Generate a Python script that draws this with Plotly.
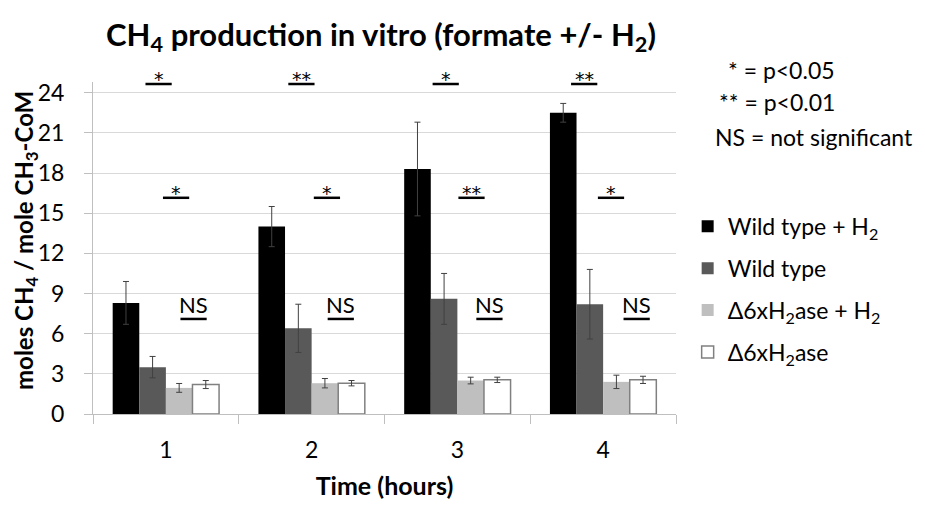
import plotly.graph_objects as go

# Time points (hours) and methane yield per series
hours = ["1", "2", "3", "4"]
series_names = [
    "Wild type + H<sub>2</sub>",
    "Wild type",
    "Δ6xH<sub>2</sub>ase + H<sub>2</sub>",
    "Δ6xH<sub>2</sub>ase",
]
wt_h2 = [8.3, 14.0, 18.3, 22.5]
wt_h2_err = [1.6, 1.5, 3.5, 0.7]
wt = [3.5, 6.4, 8.6, 8.2]
wt_err = [0.8, 1.8, 1.9, 2.6]
mut_h2 = [1.95, 2.3, 2.5, 2.4]
mut_h2_err = [0.33, 0.35, 0.25, 0.5]
mut = [2.2, 2.3, 2.55, 2.55]
mut_err = [0.3, 0.2, 0.2, 0.27]

# Significance marks: label, x position (category index), height of underline
sig_labels = ["*", "*", "NS", "**", "*", "NS", "*", "**", "NS", "**", "*", "NS"]
sig_x = [-0.05, 0.07, 0.19, 0.93, 1.105, 1.2, 1.92, 2.097, 2.22, 2.87, 3.054, 3.23]
sig_y = [24.65, 16.15, 7.1, 24.65, 16.15, 7.1, 24.65, 16.15, 7.1, 24.65, 16.15, 7.1]
sig_key = ["* = p<0.05", "** = p<0.01", "NS = not significant"]

y_ticks = [0, 3, 6, 9, 12, 15, 18, 21, 24]

FONT = "Lato"
STAR_FONT = "DejaVu Sans"
values = [wt_h2, wt, mut_h2, mut]
errors = [wt_h2_err, wt_err, mut_h2_err, mut_err]
fills = ["#000000", "#595959", "#bfbfbf", "#ffffff"]
edges = ["#000000", "#595959", "#bfbfbf", "#808080"]
edge_w = [0, 0, 0, 1.5]

# plot-area geometry in pixels, used to place paper-referenced text
W, H = 925, 506
L, R, T, B = 93, 249, 82, 92
PW, PH = W - L - R, H - T - B


def px_to_paper(px, py):
    return (px - L) / PW, (H - B - py) / PH


fig = go.Figure()
for i in range(4):
    fig.add_trace(go.Bar(
        x=hours, y=values[i], name=series_names[i], legendgroup=str(i),
        marker=dict(color=fills[i], line=dict(color=edges[i], width=edge_w[i])),
        error_y=dict(type="data", array=errors[i], color="#404040",
                     thickness=1, width=3),
    ))

shapes = []
annotations = []
half = 0.09
for lab, x, y in zip(sig_labels, sig_x, sig_y):
    shapes.append(dict(type="line", xref="x", yref="y", x0=x - half, x1=x + half,
                       y0=y, y1=y, line=dict(color="#000000", width=2.5)))
    is_star = lab.startswith("*")
    annotations.append(dict(
        x=x, y=y, xref="x", yref="y", text=lab, showarrow=False,
        xanchor="center", yanchor="bottom", yshift=-8 if is_star else -1,
        font=dict(family=STAR_FONT if is_star else FONT,
                  size=19 if is_star else 22, color="#000000"),
    ))

# key for significance symbols
key_pos = [(837, 70, "right"), (837, 102, "right"), (713, 137, "left")]
for txt, (px, py, anc) in zip(sig_key, key_pos):
    kx, ky = px_to_paper(px, py)
    annotations.append(dict(
        x=kx, y=ky, xref="paper", yref="paper", text=txt, showarrow=False,
        xanchor=anc, yanchor="middle",
        font=dict(family=FONT, size=23, color="#000000"),
    ))

tx, ty = px_to_paper(25, 241)
annotations.append(dict(
    x=tx, y=ty, xref="paper", yref="paper",
    text="<b>moles CH<sub>4</sub> / mole CH<sub>3</sub>-CoM</b>", textangle=-90,
    showarrow=False, xanchor="center", yanchor="middle",
    font=dict(family=FONT, size=24, color="#000000"),
))

fig.update_layout(
    width=W, height=H,
    margin=dict(l=L, r=R, t=T, b=B, autoexpand=False),
    paper_bgcolor="white", plot_bgcolor="white",
    font=dict(family=FONT, size=23, color="#000000"),
    barmode="group", bargap=0.27, bargroupgap=0,
    title=dict(text="<b>CH<sub>4</sub> production in vitro (formate +/- H<sub>2</sub>)</b>",
               x=381 / W, xanchor="center", y=1 - 35 / H, yanchor="middle",
               font=dict(family=FONT, size=31, color="#000000")),
    legend=dict(x=1.02, xanchor="left", y=0.63, yanchor="top",
                font=dict(family=FONT, size=23, color="#000000"),
                tracegroupgap=9, itemwidth=30, bgcolor="rgba(0,0,0,0)"),
    shapes=shapes, annotations=annotations,
)
fig.update_xaxes(
    type="category", tickson="boundaries", ticks="outside", ticklen=9,
    tickcolor="#bfbfbf", showline=True, linecolor="#bfbfbf", linewidth=1,
    showgrid=False, ticklabelstandoff=15,
    tickfont=dict(family=FONT, size=23),
    title=dict(text="<b>Time (hours)</b>", standoff=15,
               font=dict(family=FONT, size=25)),
)
fig.update_yaxes(
    range=[0, 24.8], tickvals=y_ticks, ticks="outside", ticklen=8,
    tickcolor="#bfbfbf", showline=True, linecolor="#bfbfbf", linewidth=1,
    showgrid=True, gridcolor="#d9d9d9", gridwidth=1, zeroline=False,
    ticklabelstandoff=15, tickfont=dict(family=FONT, size=23),
)

fig.write_html("out.html")
